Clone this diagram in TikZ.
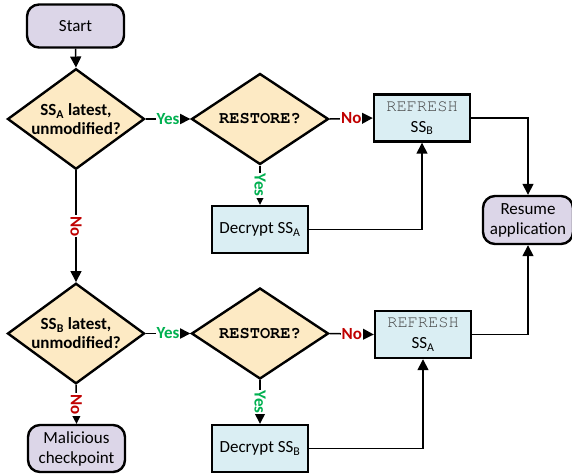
\documentclass[tikz,border=0pt]{standalone}
\usepackage{fontspec}
\setmainfont{Carlito}
\newfontfamily\courierfont{texgyrecursor}[Extension=.otf, UprightFont=*-regular, BoldFont=*-bold]
\usetikzlibrary{shapes.geometric,arrows.meta,positioning}
\definecolor{termfill}{RGB}{220,214,232}
\definecolor{decfill}{RGB}{253,234,196}
\definecolor{actfill}{RGB}{218,238,243}
\definecolor{yesgreen}{RGB}{0,176,80}
\definecolor{nored}{RGB}{192,0,0}
\definecolor{cmdgrey}{RGB}{70,70,70}
\def\refresh{{\courierfont\color{cmdgrey}REFRESH}}
\def\restore{{\courierfont RESTORE?}}

\begin{document}
\begin{tikzpicture}[x=1pt, y=-1pt, font=\fontsize{17}{20}\selectfont,
    every node/.style={align=center},
    term/.style={draw, line width=2.4pt, rounded corners=12pt, fill=termfill, minimum width=97pt, minimum height=43pt},
    decision/.style={diamond, draw, line width=2.4pt, fill=decfill, minimum width=137pt, minimum height=91pt, inner sep=-5pt, font=\fontsize{17}{19}\selectfont\bfseries},
    action/.style={draw, line width=2.4pt, fill=actfill, minimum width=96pt, minimum height=47pt, font=\fontsize{17}{21}\selectfont},
    flow/.style={line width=1.5pt, -{Triangle[length=11pt, width=11pt]}},
    yes/.style={fill=white, inner sep=1pt, text=yesgreen, font=\fontsize{17}{19}\selectfont\bfseries},
    no/.style={fill=white, inner sep=1pt, text=nored, font=\fontsize{17}{19}\selectfont\bfseries}]
    \useasboundingbox (0,0) rectangle (572,475);

    \node[term] (start) at (75.5,26) {Start};
    \node[decision] (latestA) at (76,119) {SS\textsubscript{A} latest,\\unmodified?};
    \node[decision] (restoreA) at (260,119) {\restore};
    \node[action] (refreshB) at (422,118) {\refresh\\SS\textsubscript{B}};
    \node[action] (decryptA) at (260,229.5) {Decrypt SS\textsubscript{A}};
    \node[term, minimum width=90pt, minimum height=48pt] (resume) at (528,220) {Resume\\application};

    \node[decision] (latestB) at (76,333.5) {SS\textsubscript{B} latest,\\unmodified?};
    \node[decision] (restoreB) at (260,333.5) {\restore};
    \node[action] (refreshA) at (423,334.5) {\refresh\\SS\textsubscript{A}};
    \node[action] (decryptB) at (260,448.5) {Decrypt SS\textsubscript{B}};
    \node[term, minimum height=47pt] (malicious) at (76.5,448.5) {Malicious\\checkpoint};

    % top branch
    \draw[flow] (start.south) -- (latestA.north);
    \draw[flow] (latestA.east) -- node[yes] {Yes} (restoreA.west);
    \draw[flow] (restoreA.east) -- node[no] {No} (refreshB.west);
    \draw[flow] (restoreA.south) -- node[yes, rotate=-90] {Yes} (decryptA.north);
    \draw[flow] (decryptA.east) -| (refreshB.south);
    \draw[flow] (refreshB.east) -| (resume.north);

    % bottom branch
    \draw[flow] (latestA.south) -- node[no, rotate=-90] {No} (latestB.north);
    \draw[flow] (latestB.east) -- node[yes] {Yes} (restoreB.west);
    \draw[flow] (restoreB.east) -- node[no] {No} (refreshA.west);
    \draw[flow] (restoreB.south) -- node[yes, rotate=-90] {Yes} (decryptB.north);
    \draw[flow] (decryptB.east) -| (refreshA.south);
    \draw[flow] (refreshA.east) -| (resume.south);
    \draw[flow] (latestB.south) -- node[no, rotate=-90] {No} (malicious.north);
\end{tikzpicture}
\end{document}
